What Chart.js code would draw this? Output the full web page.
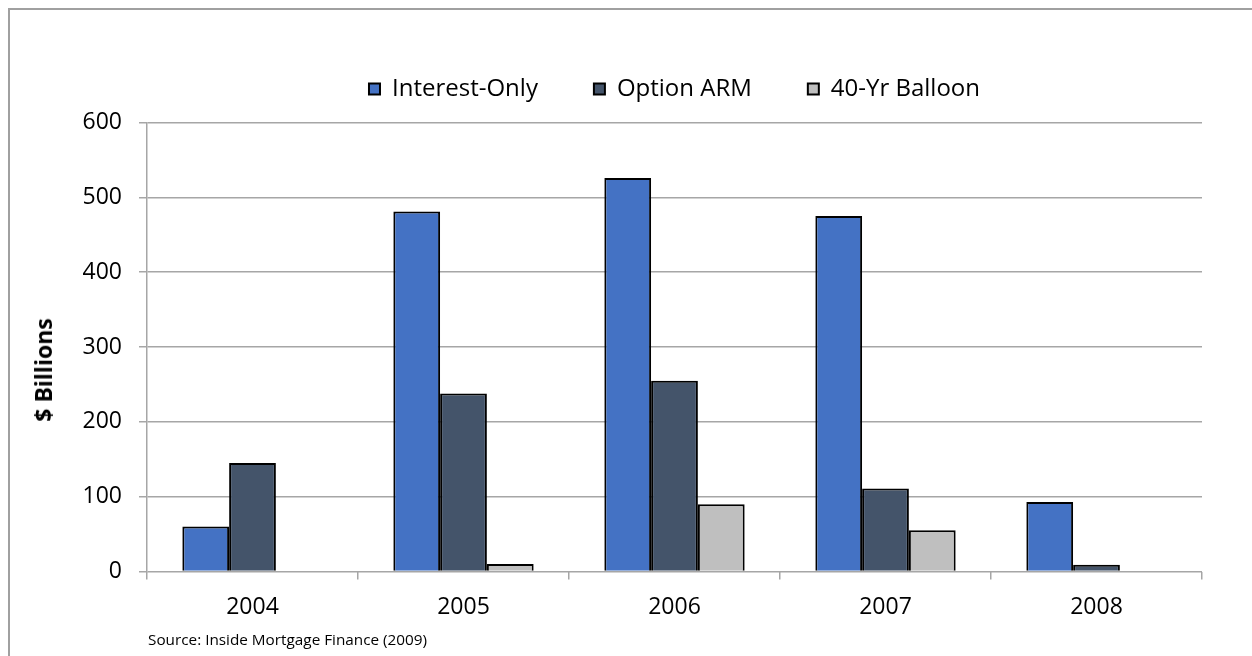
<!DOCTYPE html>
<html>
<head>
<meta charset="utf-8">
<title>Alternative mortgage originations</title>
<script src="https://cdn.jsdelivr.net/npm/chart.js@4/dist/chart.umd.min.js"></script>
<style>
  html, body { margin: 0; padding: 0; background: #fff; }
  body { width: 1252px; height: 656px; position: relative; overflow: hidden; font-family: "Open Sans", sans-serif; }
  #frame { position: absolute; left: 8px; top: 8px; right: -4px; bottom: -4px;
           border-left: 2px solid #a0a0a0; border-top: 2px solid #a0a0a0; }
  #wrap { position: absolute; left: 0; top: 0; width: 1252px; height: 656px; }
  #ytitle { position: absolute; left: 43px; top: 370px; transform: translate(-50%, -50%) rotate(-90deg);
            font-weight: bold; font-size: 23px; color: #000; white-space: nowrap; }
  #source { position: absolute; left: 148px; top: 629px; font-size: 15.3px; color: #000; white-space: nowrap; }
</style>
</head>
<body>
<div id="frame"></div>
<div id="wrap"><canvas id="chart" width="1252" height="656"></canvas></div>
<div id="ytitle">$ Billions</div>
<div id="source">Source: Inside Mortgage Finance (2009)</div>
<script>
// Originations by product type, $ billions
const years = ["2004", "2005", "2006", "2007", "2008"];
const interestOnly = [60, 481, 526, 475, 93];
const optionArm = [145, 238, 255, 111, 9];
const balloon40 = [0, 10, 90, 55, 0];
const yTicks = [0, 100, 200, 300, 400, 500, 600];

const gridGray = "#a6a6a6";
const tickFont = { family: "'Open Sans', sans-serif", size: 23 };

new Chart(document.getElementById("chart"), {
  type: "bar",
  data: {
    labels: years,
    datasets: [
      { label: "Interest-Only", data: interestOnly, backgroundColor: "#4472c4" },
      { label: "Option ARM", data: optionArm, backgroundColor: "#44546a" },
      { label: "40-Yr Balloon", data: balloon40, backgroundColor: "#bfbfbf" }
    ].map(d => Object.assign(d, {
      xAxisID: "x", yAxisID: "y",
      borderColor: "#000", borderWidth: 2, borderSkipped: "bottom",
      barPercentage: 1, categoryPercentage: 0.665
    }))
  },
  options: {
    responsive: false,
    animation: false,
    devicePixelRatio: 1,
    layout: { padding: { left: 40, right: 50, top: 21, bottom: 0 } },
    plugins: {
      tooltip: { enabled: false },
      legend: {
        position: "top",
        fullSize: false,
        labels: {
          boxWidth: 11, boxHeight: 11, padding: 56,
          color: "#000",
          font: { family: "'Open Sans', sans-serif", size: 24 }
        }
      }
    },
    scales: {
      x: {
        grid: { offset: true, drawOnChartArea: false, drawTicks: true, tickLength: 8, color: gridGray, lineWidth: 1.5 },
        border: { display: false },
        ticks: { color: "#000", font: tickFont, padding: 14, maxRotation: 0 },
        afterFit: s => { s.height = 656 - 571.5; }
      },
      // empty top band that keeps the legend clear of the plot
      gap: {
        type: "category", position: "top",
        grid: { display: false, drawTicks: false },
        border: { display: false },
        ticks: { display: false },
        afterFit: s => { s.height = 11.5; }
      },
      y: {
        min: yTicks[0], max: yTicks[yTicks.length - 1],
        ticks: { stepSize: yTicks[1] - yTicks[0], color: "#000", font: tickFont, padding: 17 },
        grid: { color: gridGray, lineWidth: 1.5, tickLength: 8 },
        border: { display: true, color: gridGray, width: 1.5 },
        afterFit: s => { s.width = 147 - 40; }
      }
    }
  }
});
</script>
</body>
</html>
